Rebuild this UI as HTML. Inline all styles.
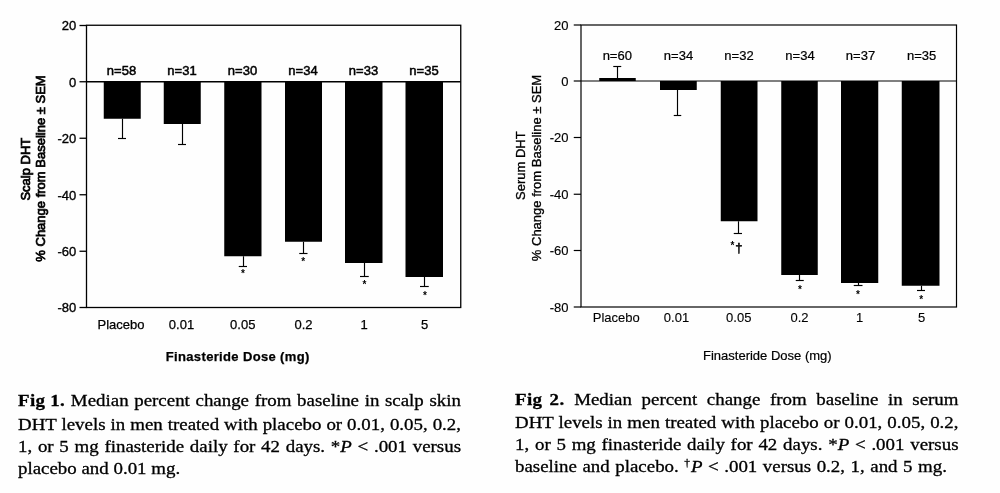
<!DOCTYPE html>
<html><head><meta charset="utf-8"><title>Fig 1 and Fig 2</title>
<style>
html,body{margin:0;padding:0;background:#fff;}
#p{position:relative;width:1000px;height:493px;overflow:hidden;background:#fefefe;}
svg{position:absolute;left:0;top:0;}
.t{font-family:"Liberation Sans",Arial,sans-serif;font-size:13px;fill:#000;}
.s{font-family:"Liberation Sans",Arial,sans-serif;font-size:10px;font-weight:bold;fill:#000;}
.c{position:absolute;font-family:"Liberation Serif","Times New Roman",serif;font-size:16.5px;line-height:25px;height:25px;color:#000;-webkit-text-stroke:0.3px #000;white-space:nowrap;transform:scaleX(1.145);transform-origin:0 0;}
.c b{letter-spacing:0.3px;display:inline-block;}
.c sup{font-size:10px;line-height:0;}
</style></head><body>
<div id="p">
<svg width="1000" height="493" viewBox="0 0 1000 493">
<rect x="86.5" y="25.25" width="374.25" height="282.25" fill="none" stroke="#000" stroke-width="1.3"/>
<line x1="86.5" y1="81.75" x2="460.75" y2="81.75" stroke="#000" stroke-width="1.3"/>
<line x1="79.5" y1="25.5" x2="86.5" y2="25.5" stroke="#000" stroke-width="1.3"/>
<text x="76.2" y="30.4" text-anchor="end" class="t" stroke="#000" stroke-width="0.35">20</text>
<line x1="79.5" y1="81.75" x2="86.5" y2="81.75" stroke="#000" stroke-width="1.3"/>
<text x="76.2" y="86.65" text-anchor="end" class="t" stroke="#000" stroke-width="0.35">0</text>
<line x1="79.5" y1="138.25" x2="86.5" y2="138.25" stroke="#000" stroke-width="1.3"/>
<text x="76.2" y="143.15" text-anchor="end" class="t" stroke="#000" stroke-width="0.35">-20</text>
<line x1="79.5" y1="194.75" x2="86.5" y2="194.75" stroke="#000" stroke-width="1.3"/>
<text x="76.2" y="199.65" text-anchor="end" class="t" stroke="#000" stroke-width="0.35">-40</text>
<line x1="79.5" y1="251.25" x2="86.5" y2="251.25" stroke="#000" stroke-width="1.3"/>
<text x="76.2" y="256.15" text-anchor="end" class="t" stroke="#000" stroke-width="0.35">-60</text>
<line x1="79.5" y1="307.5" x2="86.5" y2="307.5" stroke="#000" stroke-width="1.3"/>
<text x="76.2" y="312.4" text-anchor="end" class="t" stroke="#000" stroke-width="0.35">-80</text>
<rect x="103.75" y="81.75" width="37.0" height="37.0" fill="#000"/>
<rect x="163.75" y="81.75" width="37.0" height="42.25" fill="#000"/>
<rect x="224.25" y="81.75" width="37.25" height="174.5" fill="#000"/>
<rect x="285" y="81.75" width="37" height="160.0" fill="#000"/>
<rect x="345" y="81.75" width="37.5" height="181.25" fill="#000"/>
<rect x="405.5" y="81.75" width="37.5" height="195.25" fill="#000"/>
<line x1="122.5" y1="118.75" x2="122.5" y2="138.5" stroke="#000" stroke-width="1.15"/>
<line x1="118" y1="138.5" x2="126" y2="138.5" stroke="#000" stroke-width="1.15"/>
<line x1="182.5" y1="124" x2="182.5" y2="144.5" stroke="#000" stroke-width="1.15"/>
<line x1="178" y1="144.5" x2="186" y2="144.5" stroke="#000" stroke-width="1.15"/>
<line x1="243.5" y1="256.25" x2="243.5" y2="266.5" stroke="#000" stroke-width="1.15"/>
<line x1="238.75" y1="266.5" x2="247" y2="266.5" stroke="#000" stroke-width="1.15"/>
<line x1="303.5" y1="241.75" x2="303.5" y2="253.5" stroke="#000" stroke-width="1.15"/>
<line x1="299.25" y1="253.5" x2="307.5" y2="253.5" stroke="#000" stroke-width="1.15"/>
<line x1="364.5" y1="263" x2="364.5" y2="276.5" stroke="#000" stroke-width="1.15"/>
<line x1="360" y1="276.5" x2="368.75" y2="276.5" stroke="#000" stroke-width="1.15"/>
<line x1="424.5" y1="277" x2="424.5" y2="286.5" stroke="#000" stroke-width="1.15"/>
<line x1="420" y1="286.5" x2="428.75" y2="286.5" stroke="#000" stroke-width="1.15"/>
<text x="243" y="276.65" text-anchor="middle" class="s">*</text>
<text x="303.25" y="265.15" text-anchor="middle" class="s">*</text>
<text x="364.5" y="287.9" text-anchor="middle" class="s">*</text>
<text x="425" y="298.9" text-anchor="middle" class="s">*</text>
<text x="121.5" y="74.5" text-anchor="middle" class="t" stroke="#000" stroke-width="0.5">n=58</text>
<text x="182" y="74.5" text-anchor="middle" class="t" stroke="#000" stroke-width="0.5">n=31</text>
<text x="242.5" y="74.5" text-anchor="middle" class="t" stroke="#000" stroke-width="0.5">n=30</text>
<text x="303" y="74.5" text-anchor="middle" class="t" stroke="#000" stroke-width="0.5">n=34</text>
<text x="363.5" y="74.5" text-anchor="middle" class="t" stroke="#000" stroke-width="0.5">n=33</text>
<text x="424" y="74.5" text-anchor="middle" class="t" stroke="#000" stroke-width="0.5">n=35</text>
<text x="121" y="328.9" text-anchor="middle" class="t" stroke="#000" stroke-width="0.25">Placebo</text>
<text x="181.5" y="328.9" text-anchor="middle" class="t" stroke="#000" stroke-width="0.25">0.01</text>
<text x="242.75" y="328.9" text-anchor="middle" class="t" stroke="#000" stroke-width="0.25">0.05</text>
<text x="303.5" y="328.9" text-anchor="middle" class="t" stroke="#000" stroke-width="0.25">0.2</text>
<text x="364" y="328.9" text-anchor="middle" class="t" stroke="#000" stroke-width="0.25">1</text>
<text x="424.5" y="328.9" text-anchor="middle" class="t" stroke="#000" stroke-width="0.25">5</text>
<text x="165.75" y="361.25" class="t" font-weight="bold" font-size="13.2" letter-spacing="0.35" stroke="#000" stroke-width="0.25">Finasteride Dose (mg)</text>
<text transform="translate(29.9,169.2) rotate(-90)" text-anchor="middle" class="t" stroke="#000" stroke-width="0.75">Scalp DHT</text>
<text transform="translate(44.6,168.5) rotate(-90)" text-anchor="middle" class="t" stroke="#000" stroke-width="0.75">% Change from Baseline ± SEM</text>

<rect x="581" y="25" width="375.5" height="282" fill="none" stroke="#000" stroke-width="1.2"/>
<line x1="581" y1="81" x2="956.5" y2="81" stroke="#000" stroke-width="1.2"/>
<line x1="573.75" y1="25" x2="581" y2="25" stroke="#000" stroke-width="1.2"/>
<text x="568.5" y="29.9" text-anchor="end" class="t" stroke="#000" stroke-width="0.15">20</text>
<line x1="573.75" y1="81" x2="581" y2="81" stroke="#000" stroke-width="1.2"/>
<text x="568.5" y="85.9" text-anchor="end" class="t" stroke="#000" stroke-width="0.15">0</text>
<line x1="573.75" y1="137.5" x2="581" y2="137.5" stroke="#000" stroke-width="1.2"/>
<text x="568.5" y="142.4" text-anchor="end" class="t" stroke="#000" stroke-width="0.15">-20</text>
<line x1="573.75" y1="194.25" x2="581" y2="194.25" stroke="#000" stroke-width="1.2"/>
<text x="568.5" y="199.15" text-anchor="end" class="t" stroke="#000" stroke-width="0.15">-40</text>
<line x1="573.75" y1="250.5" x2="581" y2="250.5" stroke="#000" stroke-width="1.2"/>
<text x="568.5" y="255.4" text-anchor="end" class="t" stroke="#000" stroke-width="0.15">-60</text>
<line x1="573.75" y1="307" x2="581" y2="307" stroke="#000" stroke-width="1.2"/>
<text x="568.5" y="311.9" text-anchor="end" class="t" stroke="#000" stroke-width="0.15">-80</text>
<rect x="599.25" y="78" width="36.5" height="3" fill="#000"/>
<rect x="660" y="81" width="36.75" height="9" fill="#000"/>
<rect x="720.75" y="81" width="36.75" height="140.25" fill="#000"/>
<rect x="781.25" y="81" width="36.5" height="194" fill="#000"/>
<rect x="841" y="81" width="37.25" height="202" fill="#000"/>
<rect x="901.75" y="81" width="37.75" height="204.75" fill="#000"/>
<line x1="617.5" y1="78" x2="617.5" y2="66.5" stroke="#000" stroke-width="1.15"/>
<line x1="613.25" y1="66.5" x2="621.25" y2="66.5" stroke="#000" stroke-width="1.15"/>
<line x1="677.5" y1="90" x2="677.5" y2="115.5" stroke="#000" stroke-width="1.15"/>
<line x1="673.75" y1="115.5" x2="681.25" y2="115.5" stroke="#000" stroke-width="1.15"/>
<line x1="738.5" y1="221.25" x2="738.5" y2="233.5" stroke="#000" stroke-width="1.15"/>
<line x1="733.75" y1="233.5" x2="742" y2="233.5" stroke="#000" stroke-width="1.15"/>
<line x1="799.5" y1="275" x2="799.5" y2="280.5" stroke="#000" stroke-width="1.15"/>
<line x1="795.75" y1="280.5" x2="803.75" y2="280.5" stroke="#000" stroke-width="1.15"/>
<line x1="858.5" y1="283" x2="858.5" y2="285.5" stroke="#000" stroke-width="1.15"/>
<line x1="853.75" y1="285.5" x2="862.5" y2="285.5" stroke="#000" stroke-width="1.15"/>
<line x1="921.5" y1="285.75" x2="921.5" y2="290.5" stroke="#000" stroke-width="1.15"/>
<line x1="917" y1="290.5" x2="925" y2="290.5" stroke="#000" stroke-width="1.15"/>
<text x="800" y="292.9" text-anchor="middle" class="s">*</text>
<text x="858" y="297.9" text-anchor="middle" class="s">*</text>
<text x="921.25" y="303.4" text-anchor="middle" class="s">*</text>
<text x="617.3" y="60.3" text-anchor="middle" class="t" stroke="#000" stroke-width="0.22">n=60</text>
<text x="678.5" y="60.3" text-anchor="middle" class="t" stroke="#000" stroke-width="0.22">n=34</text>
<text x="739" y="60.3" text-anchor="middle" class="t" stroke="#000" stroke-width="0.22">n=32</text>
<text x="800" y="60.3" text-anchor="middle" class="t" stroke="#000" stroke-width="0.22">n=34</text>
<text x="860.5" y="60.3" text-anchor="middle" class="t" stroke="#000" stroke-width="0.22">n=37</text>
<text x="921.6" y="60.3" text-anchor="middle" class="t" stroke="#000" stroke-width="0.22">n=35</text>
<text x="616.25" y="321.8" text-anchor="middle" class="t" stroke="#000" stroke-width="0.11">Placebo</text>
<text x="676.5" y="321.8" text-anchor="middle" class="t" stroke="#000" stroke-width="0.11">0.01</text>
<text x="738.75" y="321.8" text-anchor="middle" class="t" stroke="#000" stroke-width="0.11">0.05</text>
<text x="799.5" y="321.8" text-anchor="middle" class="t" stroke="#000" stroke-width="0.11">0.2</text>
<text x="859.5" y="321.8" text-anchor="middle" class="t" stroke="#000" stroke-width="0.11">1</text>
<text x="921.5" y="321.8" text-anchor="middle" class="t" stroke="#000" stroke-width="0.11">5</text>
<text x="703" y="360" class="t" stroke="#000" stroke-width="0.2">Finasteride Dose (mg)</text>
<text transform="translate(525.2,165.7) rotate(-90)" text-anchor="middle" class="t" stroke="#000" stroke-width="0.33">Serum DHT</text>
<text transform="translate(541.2,168) rotate(-90)" text-anchor="middle" class="t" stroke="#000" stroke-width="0.33">% Change from Baseline ± SEM</text>
<text x="732.5" y="248.9" text-anchor="middle" class="s">*</text><text x="738.9" y="251.5" text-anchor="middle" class="t" font-size="14" stroke="#000" stroke-width="0.5">†</text>
</svg>
<div class="c" style="left:17.5px;top:388.3px;width:386.90px;text-align:justify;text-align-last:justify;"><b>Fig 1.</b> Median percent change from baseline in scalp skin</div>
<div class="c" style="left:17.5px;top:411.55px;width:386.90px;text-align:justify;text-align-last:justify;">DHT levels in men treated with placebo or 0.01, 0.05, 0.2,</div>
<div class="c" style="left:17.5px;top:434.05px;width:386.90px;text-align:justify;text-align-last:justify;">1, or 5 mg finasteride daily for 42 days. *<i>P</i> &lt; .001 versus</div>
<div class="c" style="left:17.5px;top:456.05px;width:141.05px;text-align:justify;text-align-last:justify;">placebo and 0.01 mg.</div>
<div class="c" style="left:515px;top:386.8px;width:387.34px;text-align:justify;text-align-last:justify;"><b style="word-spacing:2px">Fig 2.</b> Median percent change from baseline in serum</div>
<div class="c" style="left:515px;top:409.8px;width:387.34px;text-align:justify;text-align-last:justify;">DHT levels in men treated with placebo or 0.01, 0.05, 0.2,</div>
<div class="c" style="left:515px;top:432.3px;width:387.34px;text-align:justify;text-align-last:justify;">1, or 5 mg finasteride daily for 42 days. *<i>P</i> &lt; .001 versus</div>
<div class="c" style="left:515px;top:454.3px;width:377.29px;text-align:justify;text-align-last:justify;">baseline and placebo. <sup>†</sup><i>P</i> &lt; .001 versus 0.2, 1, and 5 mg.</div>
</div>
</body></html>
